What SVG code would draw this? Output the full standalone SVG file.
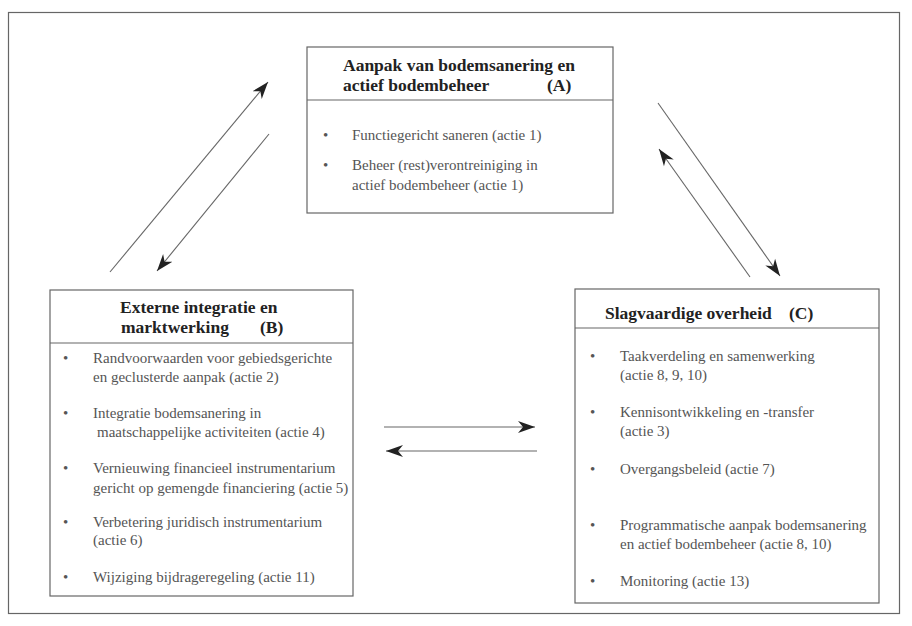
<svg xmlns="http://www.w3.org/2000/svg" width="912" height="626" viewBox="0 0 912 626">
<defs>
<marker id="ah" markerUnits="userSpaceOnUse" markerWidth="18" markerHeight="14" refX="17" refY="6.5" orient="auto">
<path d="M0,0.5 L17,6.5 L0,12.5 L5,6.5 Z" fill="#222"/>
</marker>
<style>
.box{fill:#fff;stroke:#666;stroke-width:1.2}
.hl{stroke:#666;stroke-width:1.2}
.t{font-family:"Liberation Serif","Times New Roman",serif;font-size:17.5px;font-weight:bold;fill:#222}
.b{font-family:"Liberation Serif","Times New Roman",serif;font-size:15px;fill:#555}
.c{stroke:#666;stroke-width:1.1;fill:none;marker-end:url(#ah)}
</style>
</defs>
<rect x="8.5" y="12.5" width="891" height="601" fill="none" stroke="#666" stroke-width="1.2"/>
<g id="nodeA">
<rect class="box" x="307" y="47" width="306" height="166"/>
<line class="hl" x1="307" y1="100" x2="613" y2="100"/>
<text class="t" x="343" y="71">Aanpak van bodemsanering en</text>
<text class="t" x="343" y="91">actief bodembeheer</text>
<text class="t" x="547" y="91">(A)</text>
<text class="b" x="323" y="140">•</text>
<text class="b" x="352" y="140">Functiegericht saneren (actie 1)</text>
<text class="b" x="323" y="170">•</text>
<text class="b" x="352" y="170">Beheer (rest)verontreiniging in</text>
<text class="b" x="352" y="190">actief bodembeheer (actie 1)</text>
</g>
<g id="nodeB">
<rect class="box" x="50" y="290" width="303" height="306"/>
<line class="hl" x1="50" y1="343" x2="353" y2="343"/>
<text class="t" x="120" y="313">Externe integratie en</text>
<text class="t" x="121" y="333">marktwerking</text>
<text class="t" x="260" y="333">(B)</text>
<text class="b" x="63" y="363">•</text>
<text class="b" x="93" y="363">Randvoorwaarden voor gebiedsgerichte</text>
<text class="b" x="93" y="382">en geclusterde aanpak (actie 2)</text>
<text class="b" x="63" y="418">•</text>
<text class="b" x="93" y="418">Integratie bodemsanering in</text>
<text class="b" x="97" y="437">maatschappelijke activiteiten (actie 4)</text>
<text class="b" x="63" y="473">•</text>
<text class="b" x="93" y="473">Vernieuwing financieel instrumentarium</text>
<text class="b" x="93" y="493">gericht op gemengde financiering (actie 5)</text>
<text class="b" x="63" y="527">•</text>
<text class="b" x="93" y="527">Verbetering juridisch instrumentarium</text>
<text class="b" x="93" y="545">(actie 6)</text>
<text class="b" x="63" y="582">•</text>
<text class="b" x="93" y="582">Wijziging bijdrageregeling (actie 11)</text>
</g>
<g id="nodeC">
<rect class="box" x="575" y="289" width="304" height="314"/>
<line class="hl" x1="575" y1="328" x2="879" y2="328"/>
<text class="t" x="605" y="319">Slagvaardige overheid</text>
<text class="t" x="789" y="319">(C)</text>
<text class="b" x="590" y="361">•</text>
<text class="b" x="620" y="361">Taakverdeling  en samenwerking</text>
<text class="b" x="620" y="380">(actie 8, 9, 10)</text>
<text class="b" x="590" y="417">•</text>
<text class="b" x="620" y="417">Kennisontwikkeling en -transfer</text>
<text class="b" x="620" y="436">(actie 3)</text>
<text class="b" x="590" y="474">•</text>
<text class="b" x="620" y="474">Overgangsbeleid (actie 7)</text>
<text class="b" x="590" y="530">•</text>
<text class="b" x="620" y="530">Programmatische aanpak bodemsanering</text>
<text class="b" x="620" y="549">en actief bodembeheer (actie 8, 10)</text>
<text class="b" x="590" y="586">•</text>
<text class="b" x="620" y="586">Monitoring (actie 13)</text>
</g>
<g id="connectors">
<line class="c" x1="110" y1="272" x2="268" y2="82"/>
<line class="c" x1="269" y1="134" x2="157" y2="271"/>
<line class="c" x1="658" y1="103" x2="780" y2="276"/>
<line class="c" x1="750" y1="277" x2="659" y2="149"/>
<line class="c" x1="384" y1="427" x2="535" y2="427"/>
<line class="c" x1="537" y1="451" x2="386" y2="451"/>
</g>
</svg>
